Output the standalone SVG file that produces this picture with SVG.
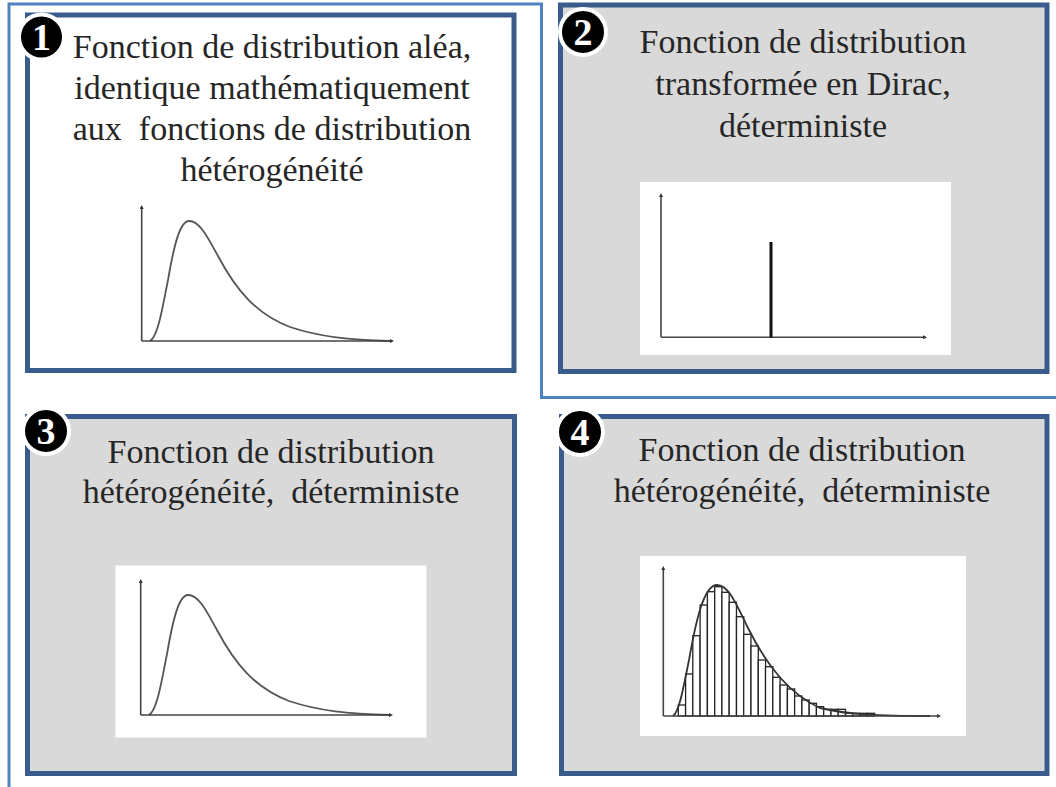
<svg xmlns="http://www.w3.org/2000/svg" width="1056" height="787" viewBox="0 0 1056 787">
<defs>
<style>
.box{stroke:#3a5c8c;stroke-width:5}
.white{fill:#ffffff}
.gray{fill:#d9d9d9}
.t{font-family:"Liberation Serif","Times New Roman",serif;font-size:34px;fill:#262626;text-anchor:middle}
.num{font-family:"Liberation Serif","Times New Roman",serif;font-size:38px;font-weight:bold;fill:#ffffff;text-anchor:middle}
.disc{fill:#000000;stroke:#ffffff;stroke-width:4}
.axis{fill:none;stroke:#444444;stroke-width:1.6;marker-end:url(#ah)}
.curve{fill:none;stroke:#555555;stroke-width:1.8}
.curve4{fill:none;stroke:#333333;stroke-width:1.8}
.bar{fill:#ffffff;stroke:#222222;stroke-width:1.3}
.plotbg{fill:#ffffff}
</style>
<marker id="ah" viewBox="0 0 6 6" refX="3" refY="3" markerWidth="4" markerHeight="4" orient="auto" markerUnits="userSpaceOnUse">
<path d="M0,0 L6,3 L0,6 z" fill="#333333"/>
</marker>
<g id="curveShape">
<path class="curve" d="M150,341 C158,336 162,310 168,280 C174,245 180,221 189,221 C200,221 208,238 218,256 C236,290 256,314 290,327 C320,337 350,340 390,341"/>
<path class="axis" d="M141.7,341 L141.7,207"/>
<path class="axis" d="M141.7,341 L392,341"/>
</g>
</defs>

<g id="connectors">
<path d="M9,787 L9,4 L541.5,4 L541.5,397.5 L1056,397.5" fill="none" stroke="#5083c2" stroke-width="3"/>
</g>

<g id="node1">
<rect class="box white" x="27.5" y="15" width="486.5" height="355.5"/>
<text class="t" xml:space="preserve"><tspan x="272" y="58">Fonction de distribution aléa,</tspan><tspan x="272" y="99">identique mathématiquement</tspan><tspan x="272" y="140">aux  fonctions de distribution</tspan><tspan x="272" y="181">hétérogénéité</tspan></text>
<use href="#curveShape"/>
<circle class="disc" cx="41.5" cy="37" r="22.5"/>
<text class="num" x="41.5" y="50">1</text>
</g>

<g id="node2">
<rect class="box gray" x="560.5" y="5" width="486.5" height="366.5"/>
<text class="t"><tspan x="803" y="53">Fonction de distribution</tspan><tspan x="803" y="95">transformée en Dirac,</tspan><tspan x="803" y="136.5">déterministe</tspan></text>
<rect class="plotbg" x="640" y="182" width="311" height="173"/>
<path class="axis" d="M661,337.3 L661,195"/>
<path class="axis" d="M661,337.3 L925,337.3"/>
<line x1="771" y1="242" x2="771" y2="337.3" stroke="#111111" stroke-width="3"/>
<circle class="disc" cx="583" cy="32" r="23"/>
<text class="num" x="583" y="45">2</text>
</g>

<g id="node3">
<rect class="box gray" x="27.5" y="416.5" width="487" height="357"/>
<text class="t" xml:space="preserve"><tspan x="271" y="463">Fonction de distribution</tspan><tspan x="271" y="503">hétérogénéité,  déterministe</tspan></text>
<rect class="plotbg" x="115.5" y="565.5" width="311" height="172"/>
<use href="#curveShape" transform="translate(-1,374)"/>
<circle class="disc" cx="46" cy="431" r="23"/>
<text class="num" x="46" y="444">3</text>
</g>

<g id="node4">
<rect class="box gray" x="561.5" y="416.5" width="485.5" height="357"/>
<text class="t" xml:space="preserve"><tspan x="802" y="460.5">Fonction de distribution</tspan><tspan x="802" y="502">hétérogénéité,  déterministe</tspan></text>
<rect class="plotbg" x="640" y="556" width="326" height="180"/>
<g id="bars">
<rect class="bar" x="678.3" y="705" width="7.27" height="11"/>
<rect class="bar" x="685.6" y="674" width="7.27" height="42"/>
<rect class="bar" x="692.8" y="635.7" width="7.27" height="80.3"/>
<rect class="bar" x="700.1" y="605" width="7.27" height="111"/>
<rect class="bar" x="707.4" y="591.7" width="7.27" height="124.3"/>
<rect class="bar" x="714.7" y="586.7" width="7.27" height="129.3"/>
<rect class="bar" x="721.9" y="592.3" width="7.27" height="123.7"/>
<rect class="bar" x="729.2" y="602.3" width="7.27" height="113.7"/>
<rect class="bar" x="736.5" y="616.7" width="7.27" height="99.3"/>
<rect class="bar" x="743.7" y="634.3" width="7.27" height="81.7"/>
<rect class="bar" x="751.0" y="646" width="7.27" height="70"/>
<rect class="bar" x="758.3" y="660" width="7.27" height="56"/>
<rect class="bar" x="765.5" y="666.7" width="7.27" height="49.3"/>
<rect class="bar" x="772.8" y="677.3" width="7.27" height="38.7"/>
<rect class="bar" x="780.1" y="685" width="7.27" height="31"/>
<rect class="bar" x="787.4" y="689" width="7.27" height="27"/>
<rect class="bar" x="794.6" y="696" width="7.27" height="20"/>
<rect class="bar" x="801.9" y="700" width="7.27" height="16"/>
<rect class="bar" x="809.2" y="703.3" width="7.27" height="12.7"/>
<rect class="bar" x="816.4" y="706.7" width="7.27" height="9.3"/>
<rect class="bar" x="823.7" y="709.3" width="7.27" height="6.7"/>
<rect class="bar" x="831.0" y="709.3" width="7.27" height="6.7"/>
<rect class="bar" x="838.2" y="709.3" width="7.27" height="6.7"/>
<rect class="bar" x="845.5" y="713.3" width="7.27" height="2.7"/>
<rect class="bar" x="852.8" y="713.3" width="7.27" height="2.7"/>
<rect class="bar" x="860.1" y="713.3" width="7.27" height="2.7"/>
<rect class="bar" x="867.3" y="713.3" width="7.27" height="2.7"/>
</g>
<path class="curve4" d="M673,716 C679,712 683,690 689,660 C696,620 704,585 717,585 C729,585 737,606 748,628 C768,668 790,694 820,708 C850,715 880,716 930,716"/>
<path class="axis" d="M663.3,716 L663.3,568"/>
<path class="axis" d="M663.3,716 L939,716"/>
<circle class="disc" cx="580" cy="432" r="23"/>
<text class="num" x="580" y="445">4</text>
</g>
</svg>
